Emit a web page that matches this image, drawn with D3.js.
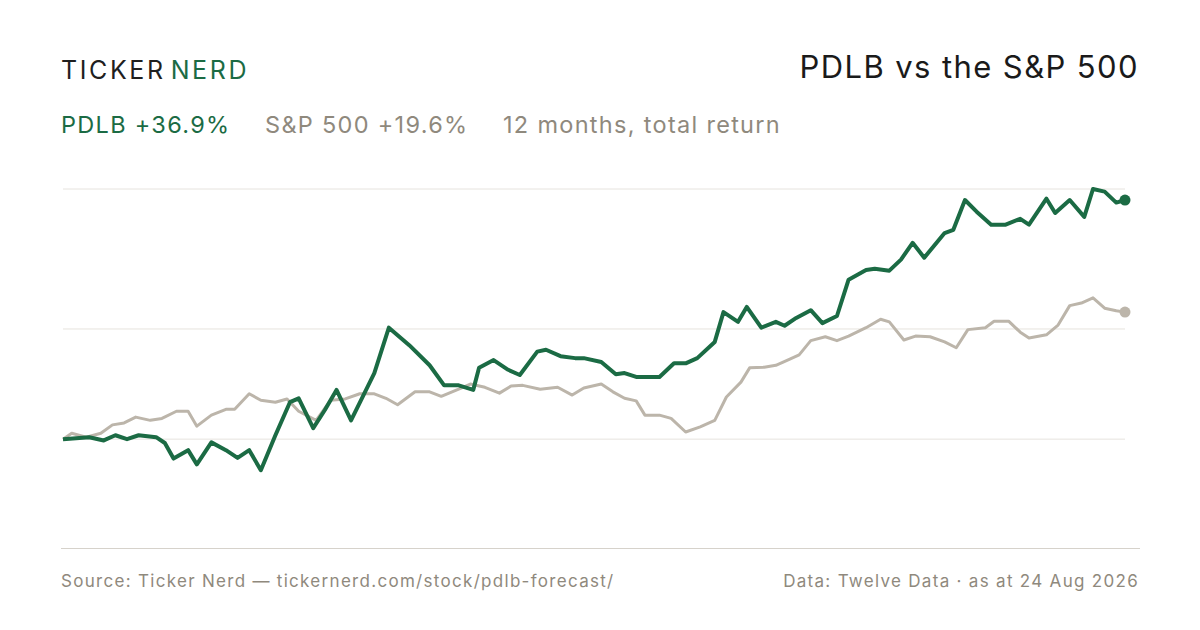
<!DOCTYPE html>
<html><head><meta charset="utf-8">
<script src="https://cdn.jsdelivr.net/npm/d3@7"></script>
<style>body{margin:0;background:#fff}svg{display:block;font-family:Inter,"Noto Sans",sans-serif}</style>
</head><body><div id="chart"></div>
<script>
// days since start, total return %
const pdlbDays = [0,9,14,18,22,26,32,35,38,43,46,51,56,60,64,68,73,78,81,86,90,94,99,107,112,119,126,131,136,141,143,148,153,157,163,166,171,176,179,185,190,193,197,200,205,210,214,218,224,227,232,235,240,245,248,252,257,261,266,270,276,279,284,288,292,296,303,306,310,314,319,324,329,332,338,341,346,351,354,358,362,365];
const pdlbVals = [0,0.3,-0.2,0.6,0,0.6,0.3,-0.6,-3.0,-1.7,-3.9,-0.5,-1.7,-2.9,-1.7,-4.8,0.6,5.7,6.3,1.7,4.5,7.6,2.9,10.2,17.2,14.5,11.4,8.3,8.3,7.6,11.0,12.2,10.7,9.9,13.5,13.8,12.8,12.5,12.5,11.9,10.0,10.2,9.6,9.6,9.6,11.7,11.7,12.5,15.0,19.6,18.1,20.4,17.2,18.1,17.5,18.7,19.9,17.9,19.0,24.6,26.1,26.3,26.0,27.7,30.3,28.0,31.8,32.3,36.9,35.1,33.1,33.1,34.0,33.1,37.1,34.9,36.9,34.3,38.6,38.2,36.5,36.9];
const spxDays = [0,3,8,13,17,21,25,30,34,39,43,46,51,56,59,64,68,73,77,81,87,92,97,102,107,111,115,121,126,130,136,140,145,150,154,158,164,170,175,179,185,189,193,197,200,205,209,214,219,224,228,233,236,241,245,250,253,257,262,266,270,276,281,284,289,293,298,303,307,311,317,320,325,329,332,338,342,346,350,354,358,362,365];
const spxVals = [0,0.9,0.3,0.9,2.2,2.5,3.4,2.9,3.2,4.3,4.3,2.0,3.7,4.6,4.6,7.0,6.0,5.7,6.2,4.3,2.9,6.0,6.2,7.0,7.0,6.3,5.3,7.3,7.3,6.6,7.7,8.5,8.0,7.1,8.2,8.3,7.7,8.0,6.8,7.9,8.5,7.3,6.3,5.9,3.7,3.7,3.2,1.1,1.9,2.9,6.5,8.8,11.0,11.1,11.4,12.4,13.0,15.2,15.8,15.2,15.9,17.2,18.5,18.1,15.3,15.9,15.8,15.0,14.1,16.9,17.2,18.2,18.2,16.5,15.6,16.1,17.6,20.6,21.0,21.8,20.2,19.8,19.6];
const gridVals = [0, 17, 38.6];

const W = 1200, H = 630;
const green = "#1b6b44", grey = "#bcb5aa", txt = "#8f897d";
const svg = d3.select("#chart").append("svg").attr("width", W).attr("height", H);

const x = d3.scaleLinear().domain([0, 365]).range([63, 1125]);
const y = d3.scaleLinear().domain([-16.8, 38.6]).range([548, 189]);

// header
const logo = svg.append("text").attr("x", 61).attr("y", 79)
  .style("font-size", "25px").style("letter-spacing", "2.6px");
logo.append("tspan").attr("fill", "#1f1f1f").text("TICKER");
logo.append("tspan").attr("fill", green).attr("dx", 5).text("NERD");

svg.append("text").attr("x", 1139).attr("y", 78).attr("text-anchor", "end")
  .attr("fill", "#1a1a1a").style("font-size", "31px").style("letter-spacing", "1.4px").text("PDLB vs the S&P 500");

const sub = svg.append("text").attr("x", 61).attr("y", 133).style("font-size", "23.5px").style("letter-spacing", "1.3px");
sub.append("tspan").attr("fill", green).text("PDLB +36.9%");
sub.append("tspan").attr("fill", txt).attr("x", 265).text("S&P 500 +19.6%");
sub.append("tspan").attr("fill", txt).attr("x", 503).text("12 months, total return");

// grid
svg.append("g").selectAll("line").data(gridVals).join("line")
  .attr("x1", 63).attr("x2", 1125).attr("y1", d => y(d)).attr("y2", d => y(d))
  .attr("stroke", "#e6e3de").attr("stroke-width", 1);
svg.append("line").attr("x1", 61).attr("x2", 1140).attr("y1", 548.5).attr("y2", 548.5)
  .attr("stroke", "#d6d2cb");

const line = d3.line().x(d => x(d[0])).y(d => y(d[1]));
const spx = spxDays.map((d, i) => [d, spxVals[i]]);
const pdlb = pdlbDays.map((d, i) => [d, pdlbVals[i]]);

svg.append("path").datum(spx).attr("d", line).attr("fill", "none")
  .attr("stroke", grey).attr("stroke-width", 3).attr("stroke-linejoin", "round");
svg.append("path").datum(pdlb).attr("d", line).attr("fill", "none")
  .attr("stroke", green).attr("stroke-width", 4).attr("stroke-linejoin", "round");

svg.append("circle").attr("cx", x(365)).attr("cy", y(spxVals[spxVals.length - 1])).attr("r", 5.5).attr("fill", grey);
svg.append("circle").attr("cx", x(365)).attr("cy", y(pdlbVals[pdlbVals.length - 1])).attr("r", 5.5).attr("fill", green);

// footer
svg.append("text").attr("x", 61).attr("y", 587).attr("fill", txt).style("font-size", "17px").style("letter-spacing", "1.3px")
  .text("Source: Ticker Nerd \u2014 tickernerd.com/stock/pdlb-forecast/");
svg.append("text").attr("x", 1139).attr("y", 587).attr("text-anchor", "end").attr("fill", txt)
  .style("font-size", "17px").style("letter-spacing", "1.3px").text("Data: Twelve Data \u00b7 as at 24 Aug 2026");
</script></body></html>
